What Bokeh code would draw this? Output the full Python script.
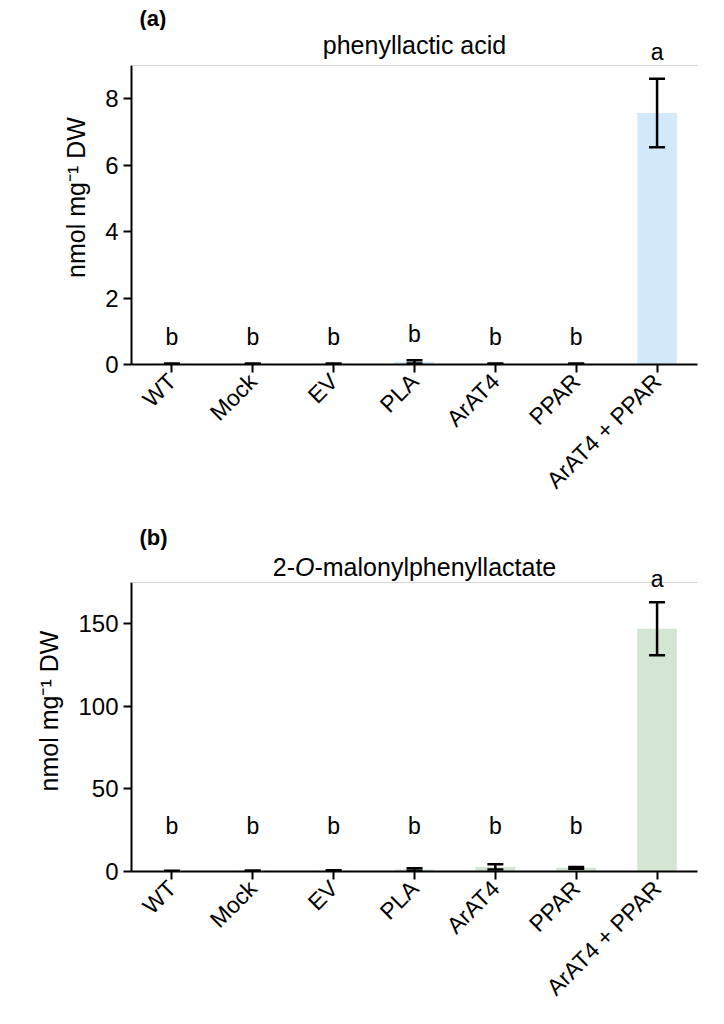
import math
from bokeh.plotting import figure
from bokeh.models import (ColumnDataSource, Whisker, TeeHead, Label, FixedTicker,
                          Range1d, FactorRange, Span)
from bokeh.layouts import column
from bokeh.embed import file_html
from bokeh.resources import INLINE

groups = ["WT", "Mock", "EV", "PLA", "ArAT4", "PPAR", "ArAT4 + PPAR"]

# panel (a): phenyllactic acid
means_a = [0.02, 0.02, 0.02, 0.08, 0.02, 0.02, 7.57]
err_a = [0.01, 0.01, 0.01, 0.05, 0.01, 0.01, 1.03]
letters_a = ["b", "b", "b", "b", "b", "b", "a"]
ticks_a = [0, 2, 4, 6, 8]

# panel (b): 2-O-malonylphenyllactate
means_b = [0.3, 0.4, 0.5, 1.2, 2.8, 2.2, 147.0]
err_b = [0.2, 0.2, 0.3, 0.8, 1.6, 0.6, 16.0]
letters_b = ["b", "b", "b", "b", "b", "b", "a"]
ticks_b = [0, 50, 100, 150]

FONT = "Liberation Sans"
YLABEL = "nmol mg\u207b\u00b9 DW"
W = 724


def header(tag, h, ytext):
    p = figure(x_range=Range1d(0, W), y_range=Range1d(0, h), frame_width=W,
               frame_height=h, min_border=0, output_backend="svg",
               toolbar_location=None, x_axis_location=None,
               y_axis_location=None)
    p.grid.visible = False
    p.outline_line_color = None
    p.add_layout(Label(x=8, y=h - ytext, text=tag, text_font=FONT,
                       text_font_size="22px", text_font_style="bold",
                       text_color="black",
                       text_baseline="middle", text_align="left"))
    return p


def panel(means, errs, letters, ticks, ymax, ytop, frame_h, bottom, color,
          title_parts, title_y, pad, floor):
    p = figure(x_range=FactorRange(factors=groups, range_padding=0),
               y_range=Range1d(0, ytop), frame_width=566, frame_height=frame_h,
               output_backend="svg", toolbar_location=None,
               min_border_left=131, min_border_right=27,
               min_border_top=0, min_border_bottom=bottom)
    p.title.visible = False
    p.grid.visible = False
    p.outline_line_color = None
    p.add_layout(Span(location=ymax, dimension="width", line_color="#d4d4d4",
                      line_width=1))

    upper = [m + e for m, e in zip(means, errs)]
    lower = [m - e for m, e in zip(means, errs)]
    ly = [max(u + pad, floor) for u in upper]
    src = ColumnDataSource(dict(x=groups, top=means, upper=upper, lower=lower,
                                lab=letters, ly=ly))
    p.vbar(x="x", top="top", width=0.49, source=src, fill_color=color,
           line_color=None)
    w = Whisker(base="x", upper="upper", lower="lower", source=src,
                line_color="black", line_width=2.5, level="annotation",
                upper_head=TeeHead(size=16, line_width=2.5, line_color="black"),
                lower_head=TeeHead(size=16, line_width=2.5, line_color="black"))
    p.add_layout(w)
    for g, yy, t in zip(range(len(groups)), ly, letters):
        p.add_layout(Label(x=g + 0.5, y=yy, text=t, text_align="center",
                           text_baseline="middle", text_font=FONT,
                           text_font_size="23px", text_color="black"))

    for ax in (p.xaxis[0], p.yaxis[0]):
        ax.axis_line_width = 2
        ax.axis_line_color = "black"
        ax.major_tick_line_width = 2
        ax.major_tick_line_color = "black"
        ax.major_tick_in = 0
        ax.major_tick_out = 8
        ax.minor_tick_line_color = None
        ax.major_label_text_font = FONT
        ax.major_label_text_color = "black"
    p.yaxis.bounds = (0, ymax)
    p.yaxis.ticker = FixedTicker(ticks=ticks)
    p.yaxis.major_label_text_font_size = "24px"
    p.yaxis.axis_label = YLABEL
    p.yaxis.axis_label_text_font = FONT
    p.yaxis.axis_label_text_font_style = "normal"
    p.yaxis.axis_label_text_font_size = "25px"
    p.yaxis.axis_label_text_color = "black"
    p.yaxis.axis_label_standoff = 12
    p.xaxis.major_label_orientation = math.pi / 4
    p.xaxis.major_label_text_font_size = "23px"

    # title centred over the frame (one part may be italic)
    fs = 25
    pxu = 566 / len(groups)
    widths = [w_ * fs / 1000.0 for _, _, w_ in title_parts]
    xcur = len(groups) / 2 - sum(widths) / 2 / pxu
    for (txt, style, _), wd in zip(title_parts, widths):
        p.add_layout(Label(x=xcur, y=title_y, text=txt, text_align="left",
                           text_baseline="middle", text_font=FONT,
                           text_font_size=f"{fs}px", text_font_style=style,
                           text_color="black"))
        xcur += wd / pxu
    return p


ha = header("(a)", 30, 18)
pa = panel(means_a, err_a, letters_a, ticks_a, 9.0, 10.05, 334, 148,
           "#d1e9fb", [("phenyllactic acid", "normal", 7336)], 9.6, 0.8, 0.75)
hb = header("(b)", 38, 25)
pb = panel(means_b, err_b, letters_b, ticks_b, 175.0, 194.4, 321, 153,
           "#d3e6d3",
           [("2-", "normal", 889), ("O", "italic", 778),
            ("-malonylphenyllactate", "normal", 9670)], 184.2, 14, 27.7)

layout = column(ha, pa, hb, pb, spacing=0)
open("out.html", "w").write(file_html(layout, INLINE))
